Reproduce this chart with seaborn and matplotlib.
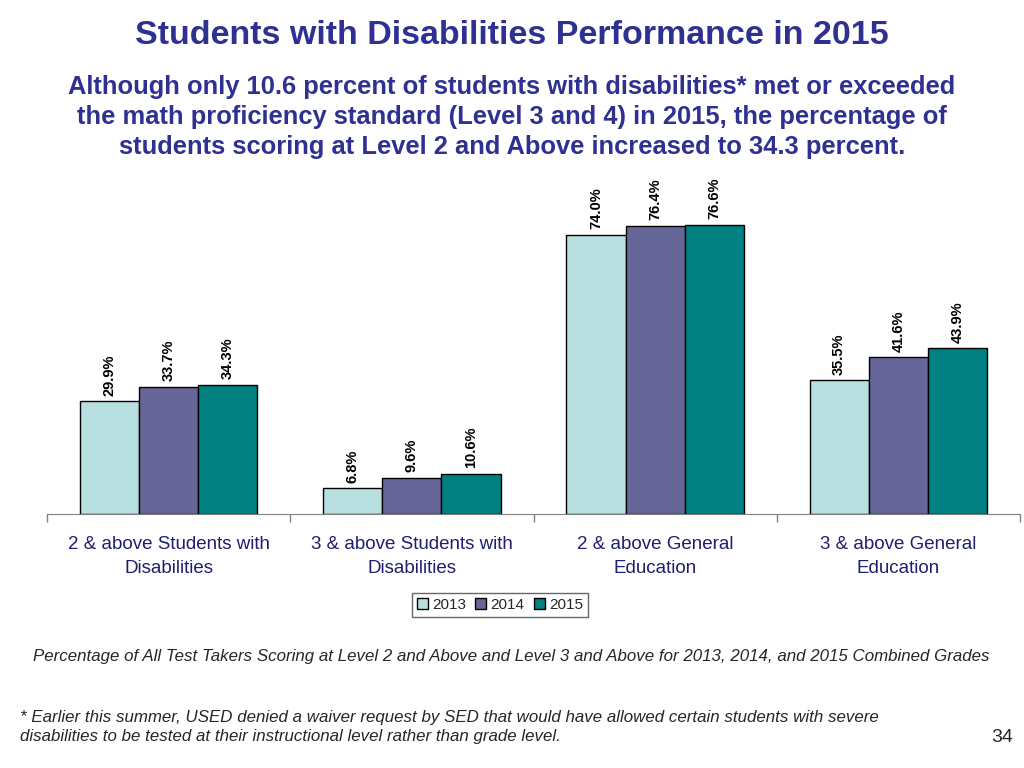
import pandas as pd
import seaborn as sns
import matplotlib.pyplot as plt

# datos
grupos = ['2 & above Students with\nDisabilities', '3 & above Students with\nDisabilities',
          '2 & above General\nEducation', '3 & above General\nEducation']
anios = ['2013', '2014', '2015']
v2013 = [29.9, 6.8, 74.0, 35.5]
v2014 = [33.7, 9.6, 76.4, 41.6]
v2015 = [34.3, 10.6, 76.6, 43.9]

df = pd.DataFrame({
    'grupo': grupos * 3,
    'anio': [a for a in anios for _ in grupos],
    'valor': v2013 + v2014 + v2015,
})

sns.set_style('white')
plt.rcParams['font.family'] = ['Liberation Sans', 'DejaVu Sans']

fig = plt.figure(figsize=(10.24, 7.68), dpi=100)
ax = fig.add_axes([47 / 1024, 1 - 514 / 768, 973 / 1024, 339.5 / 768])

colores = ['#B8E0E0', '#666699', '#008080']
sns.barplot(data=df, x='grupo', y='valor', hue='anio', palette=colores, saturation=1,
            width=0.73, edgecolor='black', linewidth=1, ax=ax)

for c in ax.containers:
    ax.bar_label(c, fmt='%.1f%%', rotation=90, padding=4,
                 fontsize=10.5, fontweight='bold', color='black')

ax.set_xlim(-0.5, 3.5)
ax.set_ylim(0, 90)
ax.set_xlabel('')
ax.set_ylabel('')
ax.set_yticks([])
for s in ['top', 'right', 'left']:
    ax.spines[s].set_visible(False)
ax.spines['bottom'].set_color('#808080')
ax.set_xticks(range(len(grupos)))
ax.set_xticklabels(grupos, linespacing=1.55, fontsize=13.5, color='#1F1F6F')
ax.tick_params(axis='x', which='major', length=0, pad=16)
ax.set_xticks([-0.5, 0.5, 1.5, 2.5, 3.5], minor=True)
ax.tick_params(axis='x', which='minor', bottom=True, length=6, width=1,
               color='#808080', direction='out')

ax.get_legend().remove()
leg = fig.legend(*ax.get_legend_handles_labels(), loc='center',
                 bbox_to_anchor=(500 / 1024, 1 - 605 / 768), ncol=3,
                 frameon=True, fancybox=False, edgecolor='#404040', fontsize=11,
                 handlelength=0.7, handleheight=0.7, handletextpad=0.3,
                 columnspacing=0.6, borderpad=0.3)
leg.get_frame().set_linewidth(1)

fig.text(0.5, 1 - 35 / 768, 'Students with Disabilities Performance in 2015',
         ha='center', va='center', fontsize=24.5, fontweight='bold', color='#2E3192')
fig.text(0.5, 1 - 117 / 768,
         'Although only 10.6 percent of students with disabilities* met or exceeded\n'
         'the math proficiency standard (Level 3 and 4) in 2015, the percentage of\n'
         'students scoring at Level 2 and Above increased to 34.3 percent.',
         ha='center', va='center', fontsize=18.4, fontweight='bold', color='#2E3192',
         linespacing=1.33)
fig.text(33 / 1024, 1 - 656 / 768,
         'Percentage of All Test Takers Scoring at Level 2 and Above and Level 3 and Above '
         'for 2013, 2014, and 2015 Combined Grades',
         ha='left', va='center', fontsize=12.2, style='italic')
fig.text(20 / 1024, 1 - 727 / 768,
         '* Earlier this summer, USED denied a waiver request by SED that would have allowed '
         'certain students with severe\ndisabilities to be tested at their instructional level '
         'rather than grade level.',
         ha='left', va='center', fontsize=12.2, style='italic', linespacing=1.3)
fig.text(1002 / 1024, 1 - 737 / 768, '34', ha='center', va='center', fontsize=14)

fig.savefig('out.png', dpi=100)
